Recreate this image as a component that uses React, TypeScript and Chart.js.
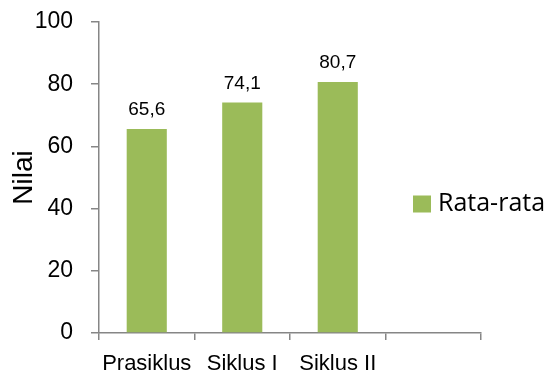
import React, { useEffect, useRef } from "react";
import { Chart, registerables } from "chart.js";

Chart.register(...registerables);

const categories = ["Prasiklus", "Siklus I", "Siklus II", ""];
const rataRata = [65.6, 74.1, 80.7, null];
const seriesName = "Rata-rata";
const axisTitle = "Nilai";

const BAR = "#9BBB59";
const AXIS = "#868686";
const ARIAL = "'Liberation Sans', Arial, sans-serif";
const LEGEND_FONT = "'Open Sans', 'Noto Sans', sans-serif";

const valueLabels = {
  id: "valueLabels",
  afterDatasetsDraw(chart: any) {
    const ctx = chart.ctx;
    const meta = chart.getDatasetMeta(0);
    ctx.save();
    ctx.font = `19px ${ARIAL}`;
    ctx.fillStyle = "#000";
    ctx.textAlign = "center";
    ctx.textBaseline = "alphabetic";
    meta.data.forEach((el: any, i: number) => {
      const v = chart.data.datasets[0].data[i];
      if (v == null) return;
      ctx.fillText(Number(v).toFixed(1).replace(".", ","), el.x, el.y - 14);
    });
    ctx.restore();
  },
};

const sideLegend = {
  id: "sideLegend",
  afterDraw(chart: any) {
    const ctx = chart.ctx;
    const { right, top, bottom } = chart.chartArea;
    const cy = (top + bottom) / 2 + 26;
    ctx.save();
    ctx.fillStyle = BAR;
    ctx.fillRect(right - 68, cy - 8, 18, 17);
    ctx.fillStyle = "#000";
    ctx.font = `25px ${LEGEND_FONT}`;
    ctx.textAlign = "left";
    ctx.textBaseline = "middle";
    ctx.fillText(chart.data.datasets[0].label, right - 43, cy);
    ctx.restore();
  },
};

export default function App() {
  const ref = useRef<HTMLCanvasElement | null>(null);
  useEffect(() => {
    if (!ref.current) return;
    const chart = new Chart(ref.current, {
      type: "bar",
      data: {
        labels: categories,
        datasets: [
          {
            label: seriesName,
            data: rataRata as any,
            backgroundColor: BAR,
            borderWidth: 0,
            barPercentage: 0.42,
            categoryPercentage: 1,
          },
        ],
      },
      options: {
        animation: false,
        responsive: false,
        maintainAspectRatio: false,
        layout: { padding: { left: 0, right: 70, top: 22, bottom: 0 } },
        plugins: {
          legend: { display: false },
          tooltip: { enabled: false },
        },
        scales: {
          x: {
            grid: {
              display: true,
              drawOnChartArea: false,
              tickLength: 7,
              color: AXIS,
              lineWidth: 1.5,
              offset: true,
            },
            border: { display: true, color: AXIS, width: 1.5 },
            ticks: {
              font: { family: ARIAL, size: 22 },
              color: "#000",
              padding: 11,
              maxRotation: 0,
              autoSkip: false,
            },
            afterFit(scale: any) {
              scale.height = 38;
              scale.paddingLeft = 0;
              scale.paddingRight = 0;
            },
          },
          y: {
            min: 0,
            max: 100,
            grid: {
              display: true,
              drawOnChartArea: false,
              tickLength: 8,
              color: AXIS,
              lineWidth: 1.5,
            },
            border: { display: true, color: AXIS, width: 1.5 },
            ticks: {
              stepSize: 20,
              font: { family: ARIAL, size: 23 },
              color: "#000",
              padding: 18,
            },
            title: {
              display: true,
              text: axisTitle,
              font: { family: ARIAL, size: 28 },
              color: "#000",
              padding: { top: 7, bottom: 0 },
            },
            afterFit(scale: any) {
              scale.width = 99;
              scale.paddingTop = 0;
              scale.paddingBottom = 0;
            },
          },
        },
      },
      plugins: [valueLabels, sideLegend],
    });
    return () => chart.destroy();
  }, []);
  return (
    <div style={{ position: "fixed", left: 0, top: 0, width: 551, height: 371, background: "#fff" }}>
      <canvas ref={ref} width={551} height={371} style={{ width: 551, height: 371, display: "block" }} />
    </div>
  );
}
